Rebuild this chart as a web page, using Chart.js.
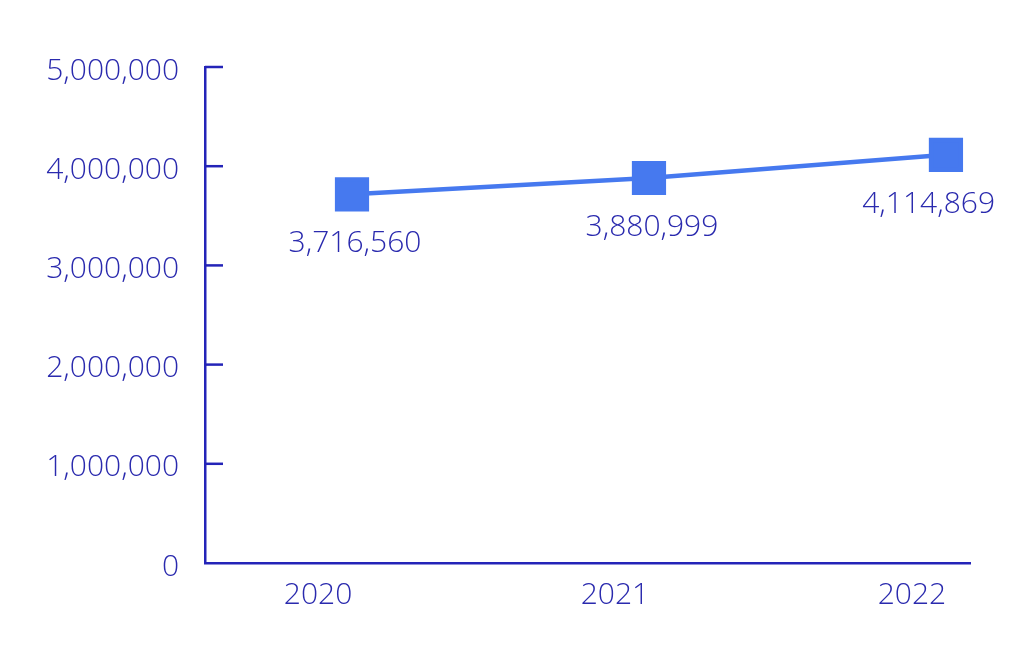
<!DOCTYPE html>
<html>
<head>
<meta charset="utf-8">
<script src="https://cdn.jsdelivr.net/npm/chart.js@4"></script>
<style>
  html, body { margin: 0; padding: 0; background: #fff; }
  #wrap { width: 1023px; height: 651px; }
</style>
</head>
<body>
<div id="wrap"><canvas id="c"></canvas></div>
<script>
const years = [2020, 2021, 2022];
const values = [3716560, 3880999, 4114869];
const yTicks = [0, 1000000, 2000000, 3000000, 4000000, 5000000];

const AXIS = '#2424b8';
const TEXT = '#2a2aae';
const LINE = '#4679ef';
const FONT = { family: '"Open Sans", sans-serif', size: 30, weight: '300' };
const fmt = v => Number(v).toLocaleString('en-US');

// inward tick marks on the y axis + value labels under the points
const extras = {
  id: 'extras',
  afterDatasetsDraw(chart) {
    const { ctx, chartArea } = chart;
    const y = chart.scales.y;
    ctx.save();
    ctx.strokeStyle = AXIS;
    ctx.lineWidth = 2.5;
    yTicks.slice(1).forEach(t => {
      const py = y.getPixelForValue(t);
      ctx.beginPath();
      ctx.moveTo(chartArea.left, py);
      ctx.lineTo(chartArea.left + 18, py);
      ctx.stroke();
    });
    ctx.font = `${FONT.weight} ${FONT.size}px ${FONT.family}`;
    ctx.fillStyle = TEXT;
    ctx.textAlign = 'center';
    ctx.textBaseline = 'alphabetic';
    const meta = chart.getDatasetMeta(0);
    meta.data.forEach((pt, i) => {
      const txt = fmt(values[i]);
      const w = ctx.measureText(txt).width;
      let cx = pt.x + 3;
      if (cx + w / 2 > chart.width - 28) cx = chart.width - 28 - w / 2;
      ctx.fillText(txt, cx, pt.y + 58);
    });
    ctx.restore();
  }
};

new Chart(document.getElementById('c'), {
  type: 'line',
  data: {
    datasets: [{
      data: years.map((yr, i) => ({ x: yr, y: values[i] })),
      borderColor: LINE,
      backgroundColor: LINE,
      borderWidth: 4.5,
      pointStyle: 'rect',
      pointRadius: 21,
      pointHoverRadius: 21,
      tension: 0
    }]
  },
  options: {
    responsive: true,
    maintainAspectRatio: false,
    animation: false,
    layout: { padding: { top: 67, right: 53, left: 0, bottom: 0 } },
    plugins: { legend: { display: false }, tooltip: { enabled: false } },
    scales: {
      x: {
        type: 'linear',
        min: 2019.505,
        max: 2022.081,
        afterBuildTicks: s => { s.ticks = years.map(v => ({ value: v })); },
        afterFit: s => { s.height = 88; },
        grid: { display: false, drawTicks: false },
        border: { display: true, color: AXIS, width: 2.5 },
        ticks: { color: TEXT, font: FONT, padding: 14, labelOffset: -34, callback: v => String(v), maxRotation: 0 }
      },
      y: {
        min: 0,
        max: 5000000,
        afterBuildTicks: s => { s.ticks = yTicks.map(v => ({ value: v })); },
        afterFit: s => { s.width = 205; },
        grid: { display: false, drawTicks: false },
        border: { display: true, color: AXIS, width: 2.5 },
        ticks: { color: TEXT, font: FONT, padding: 26, labelOffset: 4, callback: v => fmt(v) }
      }
    }
  },
  plugins: [extras]
});
</script>
</body>
</html>
